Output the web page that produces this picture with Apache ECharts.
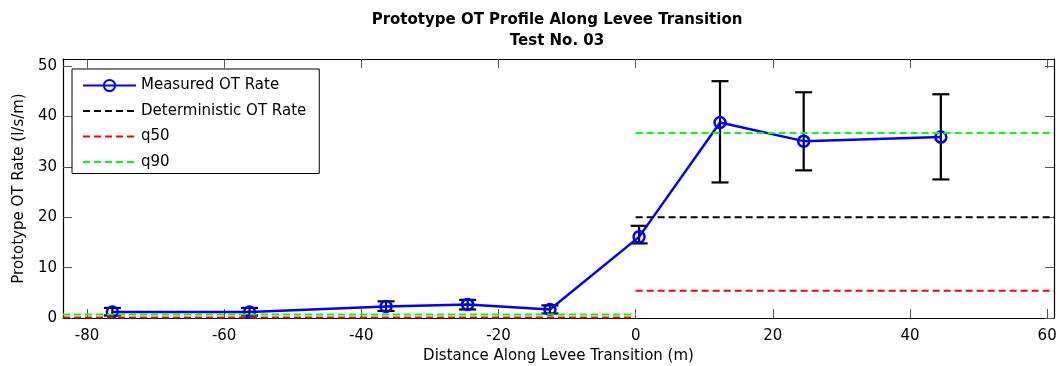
<!DOCTYPE html>
<html>
<head>
<meta charset="utf-8">
<script src="https://cdn.jsdelivr.net/npm/echarts@6/dist/echarts.min.js"></script>
<style>
  html, body { margin: 0; padding: 0; background: #fff; }
  #chart { width: 1058px; height: 366px; }
</style>
</head>
<body>
<div id="chart"></div>
<script>
// Measured overtopping rates along the levee transition
const distance     = [-76.3, -56.3, -36.4, -24.5, -12.5, 0.5, 12.3, 24.5, 44.5];
const measuredRate = [1.2, 1.2, 2.3, 2.7, 1.7, 16.1, 38.8, 35.1, 35.9];
const errorLow     = [0.5, 0.5, 1.4, 1.7, 0.9, 14.8, 26.9, 29.3, 27.5];
const errorHigh    = [2.0, 2.0, 3.3, 3.6, 2.5, 18.3, 47.0, 44.8, 44.4];

// Reference levels: [left of transition, right of transition]
const transitionX         = 0;
const deterministicLevels = [0, 20];
const q50Levels           = [0.1, 5.4];
const q90Levels           = [0.7, 36.7];

// Axis extents and tick labels
const xRange = [-83.5, 61];
const yRange = [0, 51.4];
const xTicks = [-80, -60, -40, -20, 0, 20, 40, 60];
const yTicks = [0, 10, 20, 30, 40, 50];

const FONT = '"DejaVu Sans", Verdana, sans-serif';
const FS = 15;

function levelSegments(levels) {
  return [
    [xRange[0], levels[0]], [transitionX, levels[0]],
    [transitionX, '-'],
    [transitionX, levels[1]], [xRange[1], levels[1]]
  ];
}

function dashedSeries(name, color, levels) {
  return {
    name: name,
    type: 'line',
    data: levelSegments(levels),
    symbol: 'none',
    connectNulls: false,
    silent: true,
    z: 5,
    lineStyle: { color: color, width: 2, type: [7, 4] },
    itemStyle: { color: color }
  };
}

const errorData = distance.map((x, i) => [x, errorLow[i], errorHigh[i]]);

const axisLineStyle = { onZero: false, lineStyle: { color: '#000', width: 1.2 } };
const tickStyle = { inside: true, length: 9, lineStyle: { color: '#555', width: 1 } };
const noSymbol = { color: 'rgba(0,0,0,0)', borderWidth: 0 };

const chart = echarts.init(document.getElementById('chart'), null, { renderer: 'canvas' });

chart.setOption({
  animation: false,
  backgroundColor: '#fff',
  textStyle: { fontFamily: FONT },
  title: {
    text: 'Prototype OT Profile Along Levee Transition\nTest No. 03',
    left: 552,
    top: 5,
    textAlign: 'center',
    textStyle: { fontFamily: FONT, fontSize: 15, fontWeight: 'bold', color: '#000', lineHeight: 21 }
  },
  legend: {
    data: [
      { name: 'Measured OT Rate' },
      { name: 'Deterministic OT Rate', itemStyle: noSymbol },
      { name: 'q50', itemStyle: noSymbol },
      { name: 'q90', itemStyle: noSymbol }
    ],
    orient: 'vertical',
    left: 72,
    top: 69,
    padding: [9, 13, 4, 10],
    itemGap: 10.5,
    itemWidth: 53,
    itemHeight: 14,
    borderColor: '#000',
    borderWidth: 1,
    backgroundColor: '#fff',
    selectedMode: false,
    textStyle: { fontFamily: FONT, fontSize: FS, color: '#000' }
  },
  grid: { left: 63, right: 4, top: 59, bottom: 48, containLabel: false, outerBoundsMode: 'none' },
  xAxis: [
    {
      type: 'value', min: xRange[0], max: xRange[1],
      name: 'Distance Along Levee Transition (m)',
      nameLocation: 'middle', nameGap: 31,
      nameTextStyle: { fontFamily: FONT, fontSize: FS, color: '#000' },
      axisLine: axisLineStyle,
      axisTick: Object.assign({ customValues: xTicks }, tickStyle),
      axisLabel: { customValues: xTicks, fontFamily: FONT, fontSize: FS, color: '#000', margin: 11 },
      splitLine: { show: false }
    },
    {
      type: 'value', min: xRange[0], max: xRange[1], position: 'top',
      axisLine: axisLineStyle,
      axisTick: Object.assign({ customValues: xTicks }, tickStyle),
      axisLabel: { show: false },
      splitLine: { show: false }
    }
  ],
  yAxis: [
    {
      type: 'value', min: yRange[0], max: yRange[1],
      name: 'Prototype OT Rate (l/s/m)',
      nameLocation: 'middle', nameGap: 31,
      nameTextStyle: { fontFamily: FONT, fontSize: FS, color: '#000' },
      axisLine: Object.assign({ show: true }, axisLineStyle),
      axisTick: Object.assign({ show: true, customValues: yTicks }, tickStyle),
      axisLabel: { customValues: yTicks, fontFamily: FONT, fontSize: FS, color: '#000', margin: 6 },
      splitLine: { show: false }
    },
    {
      type: 'value', min: yRange[0], max: yRange[1], position: 'right',
      axisLine: Object.assign({ show: true }, axisLineStyle),
      axisTick: Object.assign({ show: true, customValues: yTicks }, tickStyle),
      axisLabel: { show: false },
      splitLine: { show: false }
    }
  ],
  series: [
    {
      name: 'error',
      type: 'custom',
      data: errorData,
      encode: { x: 0, y: [1, 2] },
      silent: true,
      z: 3,
      renderItem: function (params, api) {
        const x = api.value(0);
        const pLo = api.coord([x, api.value(1)]);
        const pHi = api.coord([x, api.value(2)]);
        const hw = 8.5;
        const style = { stroke: '#000', lineWidth: 2.2 };
        return {
          type: 'group',
          children: [
            { type: 'line', shape: { x1: pHi[0], y1: pHi[1], x2: pLo[0], y2: pLo[1] }, style: style },
            { type: 'line', shape: { x1: pHi[0] - hw, y1: pHi[1], x2: pHi[0] + hw, y2: pHi[1] }, style: style },
            { type: 'line', shape: { x1: pLo[0] - hw, y1: pLo[1], x2: pLo[0] + hw, y2: pLo[1] }, style: style }
          ]
        };
      }
    },
    {
      name: 'Measured OT Rate',
      type: 'line',
      data: distance.map((x, i) => [x, measuredRate[i]]),
      symbol: 'circle',
      symbolSize: 11,
      z: 4,
      lineStyle: { color: '#0000ff', width: 2.5 },
      itemStyle: { color: 'rgba(0,0,0,0)', borderColor: '#0000ff', borderWidth: 2.5 }
    },
    dashedSeries('Deterministic OT Rate', '#000000', deterministicLevels),
    dashedSeries('q50', '#ff0000', q50Levels),
    dashedSeries('q90', '#00ff00', q90Levels)
  ]
});
</script>
</body>
</html>
